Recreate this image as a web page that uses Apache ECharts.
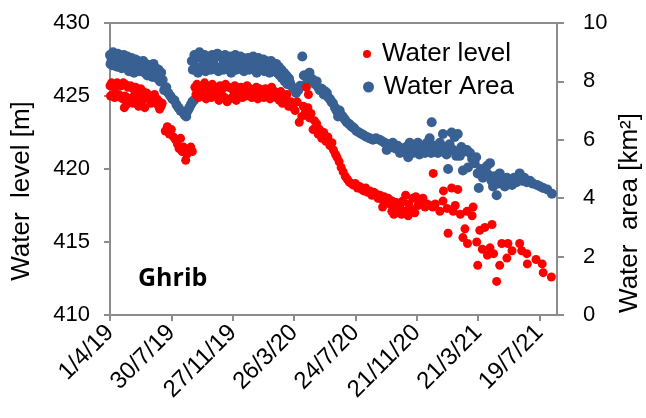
<!DOCTYPE html>
<html>
<head>
<meta charset="utf-8">
<script src="https://cdn.jsdelivr.net/npm/echarts@6/dist/echarts.min.js"></script>
<style>html,body{margin:0;padding:0;background:#fff}#c{width:646px;height:418px}</style>
</head>
<body>
<div id="c"></div>
<script>
// x values are days counted from 1 April 2019
const xTicks = [0, 120, 240, 360, 480, 600, 720, 840];
const xMax = 874;
const levelTicks = [410, 415, 420, 425, 430];
const areaTicks = [0, 2, 4, 6, 8, 10];

// Water level [m]
const levelPoints = [
[0,425.7],[3,425.9],[6,425.8],[10,425.6],[14,425.9],[18,425.8],[22,425.7],[26,425.9],[30,425.8],[35,425.6],[40,425.7],[45,425.5],[50,425.6],[55,425.4],[60,425.5],[65,425.3],
[1,425.0],[5,425.1],[9,424.9],[13,425.0],[17,425.1],[21,424.9],[25,424.8],[29,425.0],[33,424.9],[37,424.7],[42,424.8],[47,425.0],[52,424.7],[57,424.9],[62,424.6],[67,424.8],[72,425.2],[77,425.0],[82,424.9],[87,425.1],[92,424.8],[97,424.6],[102,424.5],
[28,424.2],[32,424.4],[40,424.6],[45,424.5],[56,424.3],[68,424.2],[80,424.5],[93,424.4],[97,424.1],[100,424.3],
[108,422.6],[112,422.9],[116,422.4],[120,422.7],[124,422.2],[128,422.0],[132,421.7],[135,421.4],[138,422.1],[141,421.2],[144,421.5],[148,420.6],[150,421.0],[154,421.3],[158,421.5],[161,421.2],
[166,425.6],[170,425.8],[175,425.5],[180,425.7],[185,425.9],[190,425.6],[195,425.5],[200,425.8],[205,425.6],[210,425.4],[215,425.7],[220,425.5],[226,425.8],[232,425.6],[238,425.5],[244,425.7],[250,425.4],[256,425.6],[262,425.5],[268,425.7],[274,425.5],[280,425.4],[286,425.6],[292,425.5],[298,425.3],[304,425.5],[310,425.4],[316,425.6],[322,425.3],[328,425.2],[334,425.3],[340,425.0],[346,425.1],
[168,425.1],[173,424.9],[178,425.2],[183,425.0],[188,424.8],[193,425.1],[198,424.9],[203,425.2],[208,425.0],[213,424.7],[218,425.1],[224,424.9],[229,424.6],[235,424.8],[241,425.0],[247,424.7],[253,425.1],[259,424.9],[265,425.0],[271,425.2],[277,424.9],[283,425.1],[289,424.8],[295,425.0],[301,424.9],[307,425.1],[313,424.8],[319,425.0],[325,424.9],[331,424.7],[337,424.5],[343,424.8],[349,424.3],[354,424.6],[358,424.2],
[362,424.0],[366,424.6],[370,423.2],[375,423.6],[378,424.3],[382,423.9],[384,425.6],[387,424.2],[388,425.1],[390,423.5],[393,423.8],[397,422.7],[400,423.3],[404,423.1],[407,422.4],[410,422.7],[414,422.1],[418,422.5],[422,421.9],[426,422.2],[430,421.6],[434,421.8],[437,421.3],[441,421.0],[444,420.8],[448,420.5],[452,420.1],[456,419.8],[460,419.5],[464,419.3],[468,419.1],[472,419.0],[476,418.9],[480,419.0],[484,418.7],[488,418.8],[492,418.6],[496,418.5],[500,418.7],[504,418.4],[508,418.5],[512,418.2],[516,418.4],[520,418.3],[524,418.0],[528,418.2],[532,417.9],[536,418.1],[540,417.8],[544,418.0],[548,417.6],[552,417.8],[556,417.5],[560,417.7],[564,417.4],[568,417.6],
[533,417.4],[551,417.1],[555,416.9],[563,417.0],[570,416.9],[576,417.1],[583,416.8],[590,417.2],[596,417.0],
[572,417.8],[578,418.2],[584,417.6],[592,418.0],[598,418.1],[602,417.5],[606,417.8],[612,418.0],[616,417.4],[620,417.6],[626,417.5],[631,417.4],[632,419.7],[636,417.6],[645,417.1],[651,417.8],[652,418.5],[659,417.3],[668,418.7],[671,417.1],[675,417.5],[680,418.6],[685,416.9],[698,417.1],[708,416.8],[710,417.4],
[661,415.6],[690,415.3],[694,415.9],[699,414.9],[717,415.0],[719,413.4],[723,415.8],[733,416.0],[747,416.2],[728,414.5],[743,414.6],[738,414.1],[750,414.2],[756,412.3],[762,413.4],[766,414.9],[776,413.9],[778,414.9],[786,414.4],[801,414.9],[805,414.4],[815,414.2],[816,413.5],[833,413.8],[845,413.5],[847,412.9],[863,412.6]
];

// Water area [km2]
const areaPoints = [
[0,8.9],[3,8.8],[6,9.0],[9,8.9],[12,8.8],[15,8.95],[18,8.9],[21,8.85],[24,8.8],[27,8.9],[30,8.75],[34,8.85],[38,8.7],[42,8.8],[46,8.65],[50,8.75],[55,8.7],[60,8.6],[65,8.7],[70,8.6],[75,8.55],[80,8.5],[85,8.6],[90,8.45],[95,8.4],[100,8.3],
[1,8.6],[5,8.55],[10,8.65],[14,8.5],[19,8.6],[23,8.45],[28,8.55],[33,8.5],[37,8.35],[41,8.4],[47,8.3],[52,8.45],[58,8.35],[63,8.4],[68,8.3],[73,8.2],[78,8.35],[83,8.15],[88,8.25],[93,8.1],[98,8.0],[103,8.05],
[106,7.7],[110,7.8],[114,7.6],[118,7.5],[122,7.4],[126,7.35],[130,7.2],[134,7.1],[138,7.0],[142,6.95],[146,6.85],[149,6.8],[152,7.0],[155,7.1],[158,7.2],[161,7.3],[164,7.35],
[160,8.7],[165,8.9],[170,8.8],[175,9.0],[180,8.85],[185,8.9],[190,8.75],[195,8.85],[200,8.9],[205,8.8],[210,8.95],[215,8.85],[220,8.8],[225,8.9],[230,8.75],[235,8.85],[240,8.8],[245,8.9],[250,8.75],[255,8.85],[260,8.8],[265,8.7],[270,8.8],[275,8.75],[280,8.85],[285,8.7],[290,8.8],[295,8.65],[300,8.75],[305,8.7],[310,8.6],[315,8.7],[320,8.55],[325,8.6],[330,8.5],[335,8.4],[340,8.3],[345,8.2],[350,8.1],
[162,8.4],[167,8.5],[172,8.3],[177,8.45],[182,8.55],[187,8.35],[192,8.5],[197,8.4],[202,8.6],[207,8.45],[212,8.35],[217,8.5],[222,8.4],[227,8.6],[232,8.45],[237,8.3],[242,8.5],[247,8.4],[252,8.55],[257,8.45],[262,8.35],[267,8.5],[272,8.4],[277,8.55],[282,8.45],[287,8.3],[292,8.45],[297,8.5],[302,8.35],[307,8.4],[312,8.3],[317,8.45],[322,8.35],[327,8.3],[332,8.2],[337,8.1],[342,8.0],[347,7.9],[352,7.95],[357,7.8],
[360,7.75],[364,7.6],[368,7.7],[372,7.85],[376,8.85],[379,8.2],[381,8.2],[386,8.0],[390,8.3],[394,8.1],[397,8.05],[401,7.9],[404,8.0],[407,7.8],[410,7.7],[414,7.75],[418,7.55],[421,7.65],[424,7.6],[427,7.45],[430,7.4],[433,7.3],[436,7.25],[440,7.1],[443,7.0],[446,6.8],[449,7.0],[452,6.85],[455,6.8],[459,6.7],[463,6.6],[467,6.55],[470,6.5],[473,6.45],[477,6.4],[482,6.3],[487,6.25],[492,6.2],[497,6.15],[502,6.1],[508,6.05],[514,6.0],[520,6.05],[527,6.0],[532,5.95],[537,5.9],[541,5.65],[545,5.85],[549,5.75],[553,5.9],[558,5.7],[562,5.8],[567,5.55],[571,5.7],[575,5.6],[579,5.75],[583,5.4],[586,5.9],[589,5.6],[592,5.55],[596,5.7],[600,5.75],[602,5.9],[605,5.5],[609,5.8],[612,5.65],[616,5.55],[620,5.9],[623,5.7],[625,6.05],[628,5.55],[629,6.6],[632,5.8],[635,5.8],[638,5.6],[641,5.55],[645,5.9],[648,5.7],[651,6.2],[654,5.75],[658,5.5],[661,5.0],[664,5.85],[668,6.25],[671,5.65],[674,6.1],[677,5.45],[680,6.2],[684,5.45],[687,5.75],[690,4.95],[693,5.6],[698,5.65],[700,5.05],[704,5.55],[708,5.35],[713,5.2],[716,5.4],[719,4.85],[721,4.35],[725,5.0],[729,4.7],[733,4.9],[737,5.1],[740,4.8],[743,5.2],[746,4.6],[749,4.4],[752,4.75],[756,4.1],[759,4.5],[762,4.85],[765,4.65],[768,4.55],[772,4.4],[776,4.7],[779,4.5],[782,4.6],[786,4.45],[790,4.7],[795,4.55],[801,4.85],[806,4.6],[810,4.7],[815,4.55],[821,4.6],[827,4.5],[835,4.45],[841,4.4],[847,4.35],[855,4.3],[864,4.15]
];

const baseDate = Date.UTC(2019, 3, 1);
function dayLabel(v) {
  const d = new Date(baseDate + v * 86400000);
  return d.getUTCDate() + '/' + (d.getUTCMonth() + 1) + '/' + String(d.getUTCFullYear()).slice(2);
}

const FONT = 'Liberation Sans, Arial, sans-serif';
const AXC = '#8c8c8c';
const chart = echarts.init(document.getElementById('c'), null, {renderer: 'canvas'});
chart.setOption({
  animation: false,
  backgroundColor: '#fff',
  grid: {left: 110, right: 89, top: 23, bottom: 103, show: true, borderColor: AXC, borderWidth: 2, backgroundColor: 'transparent'},
  legend: [
    {data: ['Water level'], left: 363, top: 41, orient: 'vertical', padding: 0, itemWidth: 20, itemHeight: 8, itemGap: 0,
     textStyle: {fontFamily: FONT, fontSize: 26, color: '#000'}},
    {data: ['Water Area'], left: 363, top: 74, orient: 'vertical', padding: 0, itemWidth: 20, itemHeight: 11, itemGap: 0,
     textStyle: {fontFamily: FONT, fontSize: 26, color: '#000'}}
  ],
  xAxis: {
    type: 'value', min: 0, max: xMax,
    axisLine: {show: true, onZero: false, lineStyle: {color: AXC, width: 2}},
    axisTick: {show: true, customValues: xTicks, length: 6, lineStyle: {color: AXC, width: 2}},
    axisLabel: {customValues: xTicks, rotate: 45, margin: 14, fontFamily: FONT, fontSize: 24, color: '#000', formatter: dayLabel},
    splitLine: {show: false}
  },
  yAxis: [
    {type: 'value', min: 410, max: 430, interval: 5, position: 'left',
     axisLine: {show: true, lineStyle: {color: AXC, width: 2}},
     axisTick: {show: true, length: 6, lineStyle: {color: AXC, width: 2}},
     axisLabel: {margin: 20, fontFamily: FONT, fontSize: 22, color: '#000'},
     splitLine: {show: false}},
    {type: 'value', min: 0, max: 10, interval: 2, position: 'right',
     axisLine: {show: true, lineStyle: {color: AXC, width: 2}},
     axisTick: {show: true, length: 7, lineStyle: {color: AXC, width: 2}},
     axisLabel: {margin: 26, fontFamily: FONT, fontSize: 22, color: '#000'},
     splitLine: {show: false}}
  ],
  graphic: [
    {type: 'text', x: 22, y: 191, rotation: Math.PI / 2,
     style: {text: 'Water  level [m]', font: '26px ' + FONT, fill: '#000', align: 'center', verticalAlign: 'middle'}},
    {type: 'text', x: 630, y: 213, rotation: Math.PI / 2,
     style: {text: 'Water  area [km\u00B2]', font: '26px ' + FONT, fill: '#000', align: 'center', verticalAlign: 'middle'}},
    {type: 'text', x: 138, y: 279,
     style: {text: 'Ghrib', font: 'bold 25px "Open Sans", sans-serif', fill: '#000', align: 'left', verticalAlign: 'middle'}}
  ],
  series: [
    {name: 'Water Area', type: 'scatter', yAxisIndex: 1, data: areaPoints, symbol: 'circle', symbolSize: 10,
     itemStyle: {color: '#386092', opacity: 1}},
    {name: 'Water level', type: 'scatter', yAxisIndex: 0, data: levelPoints, symbol: 'circle', symbolSize: 9,
     itemStyle: {color: '#ff0000', opacity: 1}}
  ]
});
</script>
</body>
</html>
